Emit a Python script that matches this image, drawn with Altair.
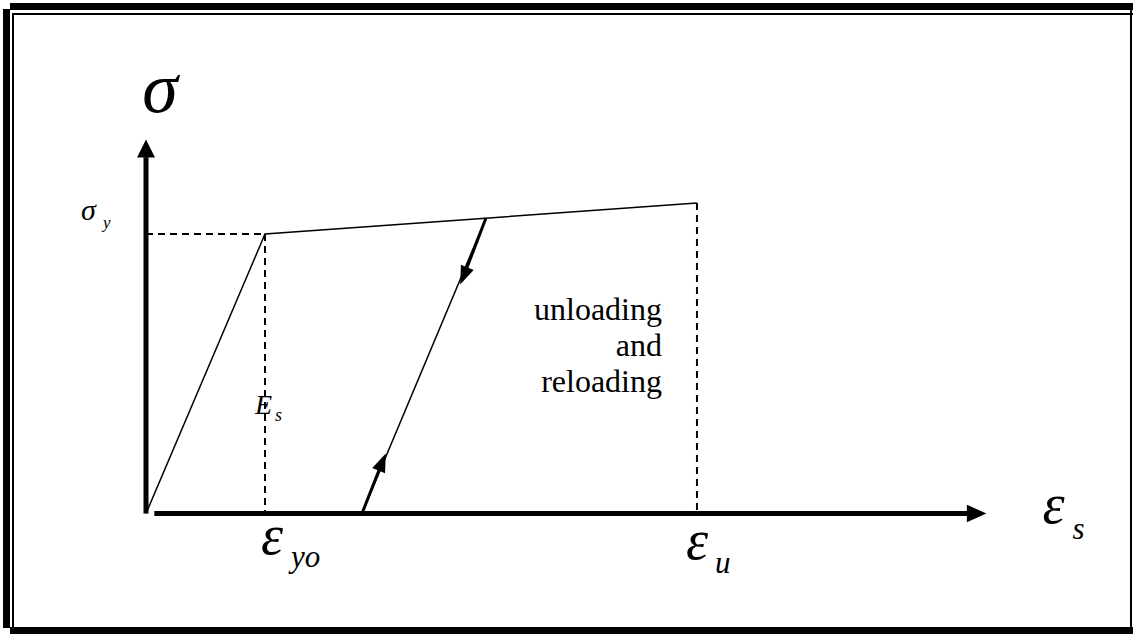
import altair as alt
import pandas as pd

# Idealised steel stress-strain law: strains in units of the yield strain,
# stresses in units of the yield stress.
envelope_eps = [0.0, 1.0, 4.63]
envelope_sig = [0.0, 1.0, 1.111]

eps_yield = 1.0
sig_yield = 1.0
eps_ult = 4.63
sig_ult = 1.111

# unloading / reloading branch
unload_eps = [2.857, 1.815]
unload_sig = [1.057, 0.0]
down_arrow = (2.67, 0.85)
up_arrow = (1.985, 0.184)

# axis extents
x_axis_end = 6.90
x_tip = 6.98
y_axis_end = 1.275
y_tip = 1.306

SERIF = "Liberation Serif"
INK = "black"

xs = alt.Scale(domain=[0, 1], range=[146, 265], nice=False, zero=False)
ys = alt.Scale(domain=[0, 1], range=[513.5, 234], nice=False, zero=False)


def X(field):
    return alt.X(field, type="quantitative", scale=xs, axis=None)


def Y(field):
    return alt.Y(field, type="quantitative", scale=ys, axis=None)


def seg(e0, s0, e1, s1, **mark):
    df = pd.DataFrame({"e0": [e0], "s0": [s0], "e1": [e1], "s1": [s1]})
    return alt.Chart(df).mark_rule(color=INK, **mark).encode(
        x=X("e0"), y=Y("s0"), x2="e1", y2="s1"
    )


def label(e, s, text, size, dx, dy, italic=True, align="left"):
    df = pd.DataFrame({"e": [e], "s": [s], "t": [text]})
    return alt.Chart(df).mark_text(
        font=SERIF, fontSize=size, fontStyle="italic" if italic else "normal",
        align=align, baseline="alphabetic", dx=dx, dy=dy, color=INK,
    ).encode(x=X("e"), y=Y("s"), text="t:N")


def head(e, s, shape, size, angle=0):
    df = pd.DataFrame({"e": [e], "s": [s]})
    return alt.Chart(df).mark_point(
        shape=shape, size=size, filled=True, color=INK, opacity=1,
        strokeWidth=0, angle=angle,
    ).encode(x=X("e"), y=Y("s"))


# framing border (double rule)
one = alt.Data(values=[{}])


def box(x0, x1, y0, y1):
    return alt.Chart(one).mark_rect(color=INK).encode(
        x=alt.value(x0), x2=alt.value(x1), y=alt.value(y0), y2=alt.value(y1)
    )


frame = [
    box(10, 1133, 3, 10),
    box(13, 1133, 13, 15),
    box(3, 10, 9, 628),
    box(12, 14, 13, 627),
    box(10, 1133, 627, 634),
    box(1130, 1132, 10, 627),
]

# loading envelope
env_df = pd.DataFrame({"e": envelope_eps, "s": envelope_sig, "i": range(3)})
envelope = alt.Chart(env_df).mark_line(color=INK, strokeWidth=1.5).encode(
    x=X("e"), y=Y("s"), order="i:O"
)

dash = dict(strokeWidth=2, strokeDash=[7, 5])
guides = [
    seg(0, sig_yield, eps_yield, sig_yield, **dash),
    seg(eps_yield, sig_yield, eps_yield, 0, **dash),
    seg(eps_ult, sig_ult, eps_ult, 0, **dash),
]

unload = [
    seg(unload_eps[0], unload_sig[0], unload_eps[1], unload_sig[1], strokeWidth=1.5),
    seg(unload_eps[0], unload_sig[0], down_arrow[0], down_arrow[1], strokeWidth=3),
    seg(unload_eps[1], unload_sig[1], up_arrow[0], up_arrow[1], strokeWidth=3),
]

slim = "M0,-1L0.75,1L-0.75,1Z"
arrows = [
    head(down_arrow[0], down_arrow[1], slim, 340, angle=202.8),
    head(up_arrow[0], up_arrow[1], slim, 340, angle=22.8),
]

axes = [
    seg(0, 0, 0, y_axis_end, strokeWidth=5),
    seg(0.07, 0, x_axis_end, 0, strokeWidth=5),
    head(0, y_tip, "M0,-1L1,1L-1,1Z", 324),
    head(x_tip, 0, "M1,0L-1,-0.9L-1,0.9Z", 380),
]

labels = [
    label(0, y_tip, "σ", 72, 14, -36, align="center"),
    label(0, sig_yield, "σ", 30, -65, -14),
    label(0, sig_yield, "y", 17, -43, -6),
    label(eps_yield, 0, "E", 28, -10, -100),
    label(eps_yield, 0, "s", 18, 10, -93),
    label(eps_yield, 0, "ε", 56, -4, 40),
    label(eps_yield, 0, "yo", 31, 26, 53),
    label(eps_ult, 0, "ε", 56, -11, 45),
    label(eps_ult, 0, "u", 31, 18, 59),
    label(x_tip, 0, "ε", 56, 66, 9),
    label(x_tip, 0, "s", 31, 96, 25),
]

note_lines = ["unloading", "and", "reloading"]
notes = [
    label(eps_ult, 0, line, 32, -35, -193.5 + 36 * k, italic=False, align="right")
    for k, line in enumerate(note_lines)
]

chart = alt.layer(
    *frame, envelope, *guides, *unload, *arrows, *axes, *labels, *notes
).properties(
    width=1133, height=635, padding=0, autosize=alt.AutoSizeParams(type="none"),
    background="white",
).configure_view(stroke=None)

chart.save("out.html", embed_options={"renderer": "svg", "actions": False})
